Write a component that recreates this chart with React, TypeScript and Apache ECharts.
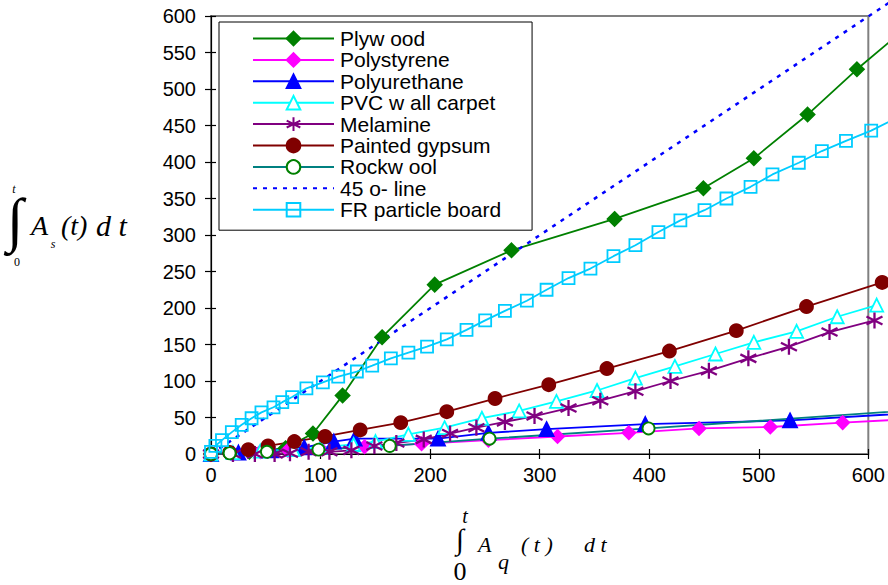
import React, { useEffect, useRef } from "react";
import * as echarts from "echarts";

const seriesNames = [
  "Plyw ood",
  "Polystyrene",
  "Polyurethane",
  "PVC w all carpet",
  "Melamine",
  "Painted gypsum",
  "Rockw ool",
  "45 o- line",
  "FR particle board",
];

const plywood = [[0, 0], [35, 3], [68, 8], [93, 28], [120, 80], [156, 160], [204, 232], [274, 279], [368, 322], [449, 364], [495, 405], [544, 465], [589, 527], [630, 579]];
const polystyrene = [[0, 0], [20, 1], [45, 3], [70, 5], [100, 7], [140, 10], [192, 14], [253, 19], [316, 24], [381, 29], [445, 35], [510, 37], [576, 43], [640, 48]];
const polyurethane = [[0, 0], [25, 2], [55, 5], [85, 9], [112, 17], [131, 21], [207, 21], [253, 29], [306, 34], [396, 41], [528, 46], [660, 58]];
const pvcWallCarpet = [[0, 0], [20, 2], [45, 4], [75, 6], [100, 9], [130, 13], [150, 17], [180, 27], [213, 36], [247, 49], [281, 59], [315, 72], [352, 87], [387, 104], [423, 120], [460, 137], [495, 153], [534, 168], [571, 188], [607, 204]];
const melamine = [[0, 0], [20, 0], [40, 0], [58, 0], [72, 1], [89, 3], [108, 3], [128, 5], [149, 11], [169, 15], [194, 20], [218, 28], [242, 36], [268, 44], [295, 52], [326, 63], [355, 73], [387, 86], [419, 100], [454, 114], [490, 131], [527, 147], [564, 167], [605, 183]];
const paintedGypsum = [[0, 0], [17, 2], [34, 6], [52, 11], [76, 17], [104, 24], [136, 33], [173, 43], [215, 58], [259, 76], [308, 95], [361, 117], [418, 141], [479, 169], [543, 202], [612, 235]];
const rockwool = [[0, 0], [17, 1], [51, 3], [98, 6], [163, 11], [254, 21], [399, 35], [660, 62]];
const line45 = [[0, 0], [650, 650]];
const frParticleBoard = [[0, 3], [4, 11], [10, 19], [19, 30], [28, 40], [37, 49], [46, 57], [57, 64], [65, 71], [74, 78], [87, 90], [102, 98], [116, 106], [133, 113], [147, 121], [164, 131], [180, 139], [197, 147], [215, 157], [233, 170], [250, 183], [268, 196], [288, 210], [306, 225], [326, 241], [346, 254], [367, 271], [387, 286], [408, 304], [428, 320], [450, 334], [470, 350], [492, 366], [512, 383], [536, 399], [557, 415], [579, 429], [602, 443], [625, 460]];

const xTicks = { min: 0, max: 600, interval: 100 };
const yTicks = { min: 0, max: 600, interval: 50 };

// plot frame geometry (pixels)
const CHART_W = 888;
const CHART_H = 585;
const PLOT_LEFT = 211;
const PLOT_TOP = 16;
const PLOT_RIGHT = 19;
const PLOT_BOTTOM = 131;
// hidden twin grid with the very same scale, reaching the top and right edges of the
// picture, so that the curves may run past the plot frame as in the original
const WIDE_X_MAX = (xTicks.max * (CHART_W - PLOT_LEFT)) / (CHART_W - PLOT_LEFT - PLOT_RIGHT);
const TALL_Y_MAX = (yTicks.max * (CHART_H - PLOT_BOTTOM)) / (CHART_H - PLOT_BOTTOM - PLOT_TOP);

const SANS = "Liberation Sans, Arial, sans-serif";
const SERIF = "Liberation Serif, Times New Roman, serif";
const ASTERISK = "path://M5,0L5,10M0.7,2.5L9.3,7.5M0.7,7.5L9.3,2.5";

function mkSeries(name: string, data: number[][], color: string, symbol: string, size: number, fill: string, border: string, bw = 1.8) {
  return {
    name,
    type: "line",
    xAxisIndex: 2,
    yAxisIndex: 2,
    data,
    clip: false,
    symbol,
    symbolSize: size,
    showAllSymbol: true,
    lineStyle: { color, width: 1.8 },
    itemStyle: { color: fill, borderColor: border, borderWidth: bw },
    emphasis: { disabled: true },
  };
}

export default function App() {
  const ref = useRef<HTMLDivElement>(null);
  useEffect(() => {
    if (!ref.current) return;
    const chart = echarts.init(ref.current, undefined, { renderer: "svg" });
    const axisCommon = {
      axisLine: { show: true, lineStyle: { color: "#000", width: 1.2 } },
      splitLine: { show: false },
    };
    const tx = (text: string, x: number, y: number, font: string, extra: any = {}) => ({
      type: "text",
      x,
      y,
      style: { text, font, fill: "#000", align: "left", verticalAlign: "middle", ...extra },
    });
    const option: any = {
      animation: false,
      backgroundColor: "#fff",
      grid: [
        {
          left: PLOT_LEFT,
          top: PLOT_TOP,
          right: PLOT_RIGHT,
          bottom: PLOT_BOTTOM,
          show: true,
          borderColor: "#808080",
          borderWidth: 2,
          backgroundColor: "transparent",
        },
        { left: PLOT_LEFT, top: 0, right: 0, bottom: PLOT_BOTTOM, show: false },
      ],
      xAxis: [
        {
          type: "value",
          ...xTicks,
          position: "bottom",
          ...axisCommon,
          axisTick: { show: true, length: 5, lineStyle: { color: "#000", width: 1.2 } },
          axisLabel: { color: "#000", fontSize: 20, fontFamily: SANS, margin: 11 },
        },
        {
          type: "value",
          ...xTicks,
          position: "bottom",
          axisLine: { show: false },
          splitLine: { show: false },
          axisTick: { show: true, inside: true, length: 5, lineStyle: { color: "#000", width: 1.2 } },
          axisLabel: { show: false },
        },
        { type: "value", gridIndex: 1, min: xTicks.min, max: WIDE_X_MAX, show: false },
      ],
      yAxis: [
        {
          type: "value",
          ...yTicks,
          position: "left",
          ...axisCommon,
          axisTick: { show: true, length: 6, lineStyle: { color: "#000", width: 1.2 } },
          axisLabel: { color: "#000", fontSize: 20, fontFamily: SANS, margin: 15 },
        },
        {
          type: "value",
          ...yTicks,
          position: "left",
          axisLine: { show: false },
          splitLine: { show: false },
          axisTick: { show: true, inside: true, length: 5, lineStyle: { color: "#000", width: 1.2 } },
          axisLabel: { show: false },
        },
        { type: "value", gridIndex: 1, min: yTicks.min, max: TALL_Y_MAX, show: false },
      ],
      legend: {
        data: seriesNames.map((n) =>
          n === "45 o- line"
            ? { name: n, itemStyle: { color: "rgba(0,0,0,0)", borderColor: "rgba(0,0,0,0)", borderWidth: 0, opacity: 0 } }
            : { name: n }
        ),
        orient: "vertical",
        left: 219,
        top: 22,
        itemWidth: 81,
        itemHeight: 17,
        itemGap: 0.4,
        padding: [6, 31, 10, 33],
        borderColor: "#000",
        borderWidth: 1,
        backgroundColor: "#fff",
        textStyle: { color: "#000", fontSize: 21, fontFamily: SANS, padding: [0, 0, 0, 1] },
        selectedMode: false,
      },
      series: [
        mkSeries(seriesNames[0], plywood, "#008000", "diamond", 14, "#008000", "#008000"),
        mkSeries(seriesNames[1], polystyrene, "#FF00FF", "diamond", 13, "#FF00FF", "#FF00FF"),
        mkSeries(seriesNames[2], polyurethane, "#0000FF", "triangle", 14, "#0000FF", "#0000FF"),
        mkSeries(seriesNames[3], pvcWallCarpet, "#00FFFF", "triangle", 13, "#fff", "#00FFFF"),
        mkSeries(seriesNames[4], melamine, "#800080", ASTERISK, 16, "#800080", "#800080", 2.3),
        mkSeries(seriesNames[5], paintedGypsum, "#800000", "circle", 13, "#800000", "#800000"),
        mkSeries(seriesNames[6], rockwool, "#008080", "circle", 12, "#fff", "#008000"),
        {
          name: seriesNames[7],
          type: "line",
          xAxisIndex: 2,
          yAxisIndex: 2,
          data: line45,
          clip: false,
          symbol: "none",
          lineStyle: { color: "#0000FF", width: 2.5, type: [4, 6] },
          itemStyle: { color: "#0000FF" },
          emphasis: { disabled: true },
        },
        mkSeries(seriesNames[8], frParticleBoard, "#00CCFF", "rect", 12, "rgba(255,255,255,0)", "#00CCFF"),
      ],
      graphic: [
        // y-axis title: integral from 0 to t of A_s(t) dt
        tx("∫", 15, 220, `60px ${SERIF}`, { align: "center" }),
        tx("t", 14, 189, `italic 12px ${SERIF}`, { align: "center" }),
        tx("0", 17, 262, `12px ${SERIF}`, { align: "center" }),
        tx("A", 31, 225, `italic 28px ${SERIF}`),
        tx("s", 53, 244, `italic 12px ${SERIF}`, { align: "center" }),
        tx("(t)", 61, 225, `italic 28px ${SERIF}`),
        tx("d t", 96, 225, `italic 30px ${SERIF}`),
        // x-axis title: integral from 0 to t of A_q(t) dt
        tx("t", 465, 516, `italic 20px ${SERIF}`, { align: "center" }),
        tx("∫", 460, 539, `29px ${SERIF}`, { align: "center" }),
        tx("0", 460, 571, `26px ${SERIF}`, { align: "center" }),
        tx("A", 478, 544, `italic 22px ${SERIF}`),
        tx("q", 498, 561, `italic 22px ${SERIF}`),
        tx("( t )", 521, 544, `italic 22px ${SERIF}`),
        tx("d t", 584, 544, `italic 22px ${SERIF}`),
      ],
    };
    chart.setOption(option);
    return () => chart.dispose();
  }, []);
  return <div ref={ref} style={{ position: "fixed", left: 0, top: 0, width: CHART_W, height: CHART_H, background: "#fff" }} />;
}
